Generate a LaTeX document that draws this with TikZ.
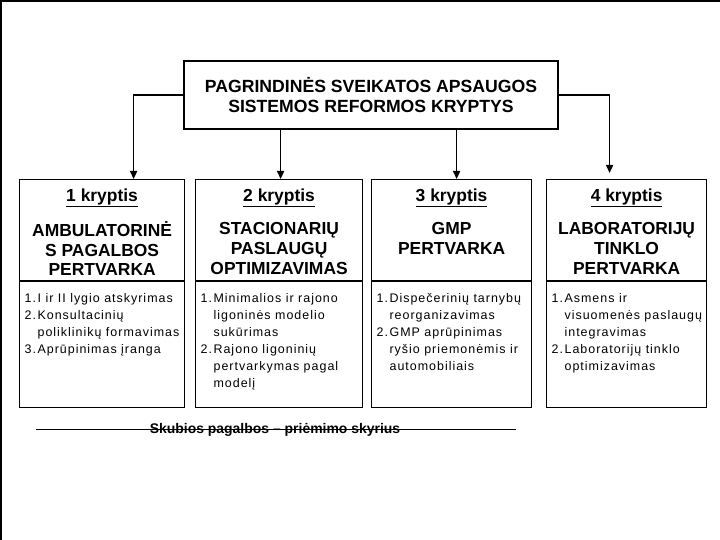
\documentclass[tikz,border=0pt]{standalone}
\usepackage{fontspec}
\setmainfont{Liberation Sans}
\newfontfamily\lstfont[LetterSpace=8]{Liberation Sans}
\usepackage{tikz}
\usetikzlibrary{positioning,arrows.meta}
% head part: number (underlined) and title, top aligned
\newcommand{\hdtext}[3]{\parbox[t][101bp][t]{#1}{\centering\fontsize{17.5}{20}\selectfont\bfseries
  \rule{0pt}{22bp}\underline{#2}\\[13bp]#3}}
% list part
\newcommand{\lstext}[2]{\parbox[t][126bp][t]{#1}{\lstfont\fontsize{12.5}{17}\selectfont
  \vspace*{9bp}\begin{tabular}[t]{@{\hspace{5bp}}p{13bp}@{}l@{}}#2\end{tabular}}}
\tikzset{
  frm/.style={line width=1.5bp},
  ttl/.style={draw, line width=1.2bp, align=center, inner sep=0pt, minimum width=374bp,
    minimum height=68bp, font=\fontsize{17.7}{20}\selectfont\bfseries},
  hd/.style={draw, line width=1.2bp, inner sep=0pt, anchor=north west},
  ls/.style={draw, line width=1.2bp, inner sep=0pt, anchor=north west},
  ar/.style={-{Triangle[length=8bp,width=7bp]}, line width=1.5bp},
  lbl/.style={font=\fontsize{14}{16}\selectfont\bfseries}
}
\begin{document}
\begin{tikzpicture}[x=1bp,y=-1bp]
  \useasboundingbox (0,0) rectangle (720,540);
  \draw[frm] (0.8,540) -- (0.8,0.8) -- (720,0.8);
  \node[ttl] (ref) at (371,95) {PAGRINDINĖS SVEIKATOS APSAUGOS\\SISTEMOS REFORMOS KRYPTYS};
  % four directions
  \node[hd] (h1) at (19,179) {\hdtext{165bp}{1 kryptis}{AMBULATORINĖ\\S PAGALBOS\\PERTVARKA}};
  \node[ls] (l1) at (h1.south west) {\lstext{165bp}{1. & I ir II lygio atskyrimas\\ 2. & Konsultacinių\\ & poliklinikų formavimas\\ 3. & Aprūpinimas įranga}};
  \node[hd] (h2) at (195,179) {\hdtext{167bp}{2 kryptis}{STACIONARIŲ\\PASLAUGŲ\\OPTIMIZAVIMAS}};
  \node[ls] (l2) at (h2.south west) {\lstext{167bp}{1. & Minimalios ir rajono\\ & ligoninės modelio\\ & sukūrimas\\ 2. & Rajono ligoninių\\ & pertvarkymas pagal\\ & modelį}};
  \node[hd] (h3) at (371,179) {\hdtext{160bp}{3 kryptis}{GMP\\PERTVARKA}};
  \node[ls] (l3) at (h3.south west) {\lstext{160bp}{1. & Dispečerinių tarnybų\\ & reorganizavimas\\ 2. & GMP aprūpinimas\\ & ryšio priemonėmis ir\\ & automobiliais}};
  \node[hd] (h4) at (546,179) {\hdtext{160bp}{4 kryptis}{LABORATORIJŲ\\TINKLO\\PERTVARKA}};
  \node[ls] (l4) at (h4.south west) {\lstext{160bp}{1. & Asmens ir\\ & visuomenės paslaugų\\ & integravimas\\ 2. & Laboratorijų tinklo\\ & optimizavimas}};
  \draw[ar] (ref.west) -| ([xshift=31.5bp]h1.north);
  \draw[ar] ([xshift=1.5bp]h2.north |- ref.south) -- ([xshift=1.5bp]h2.north);
  \draw[ar] ([xshift=5bp]h3.north |- ref.south) -- ([xshift=5bp]h3.north);
  \draw[ar] (ref.east) -| ([xshift=-17bp,yshift=6bp]h4.north);
  % emergency department
  \coordinate (sl) at (36,429);
  \coordinate (sr) at (516,429);
  \draw[line width=1bp] (sl) -- (sr);
  \node[lbl, anchor=base] (sk) at (275,433.5) {Skubios pagalbos – priėmimo skyrius};
\end{tikzpicture}
\end{document}
